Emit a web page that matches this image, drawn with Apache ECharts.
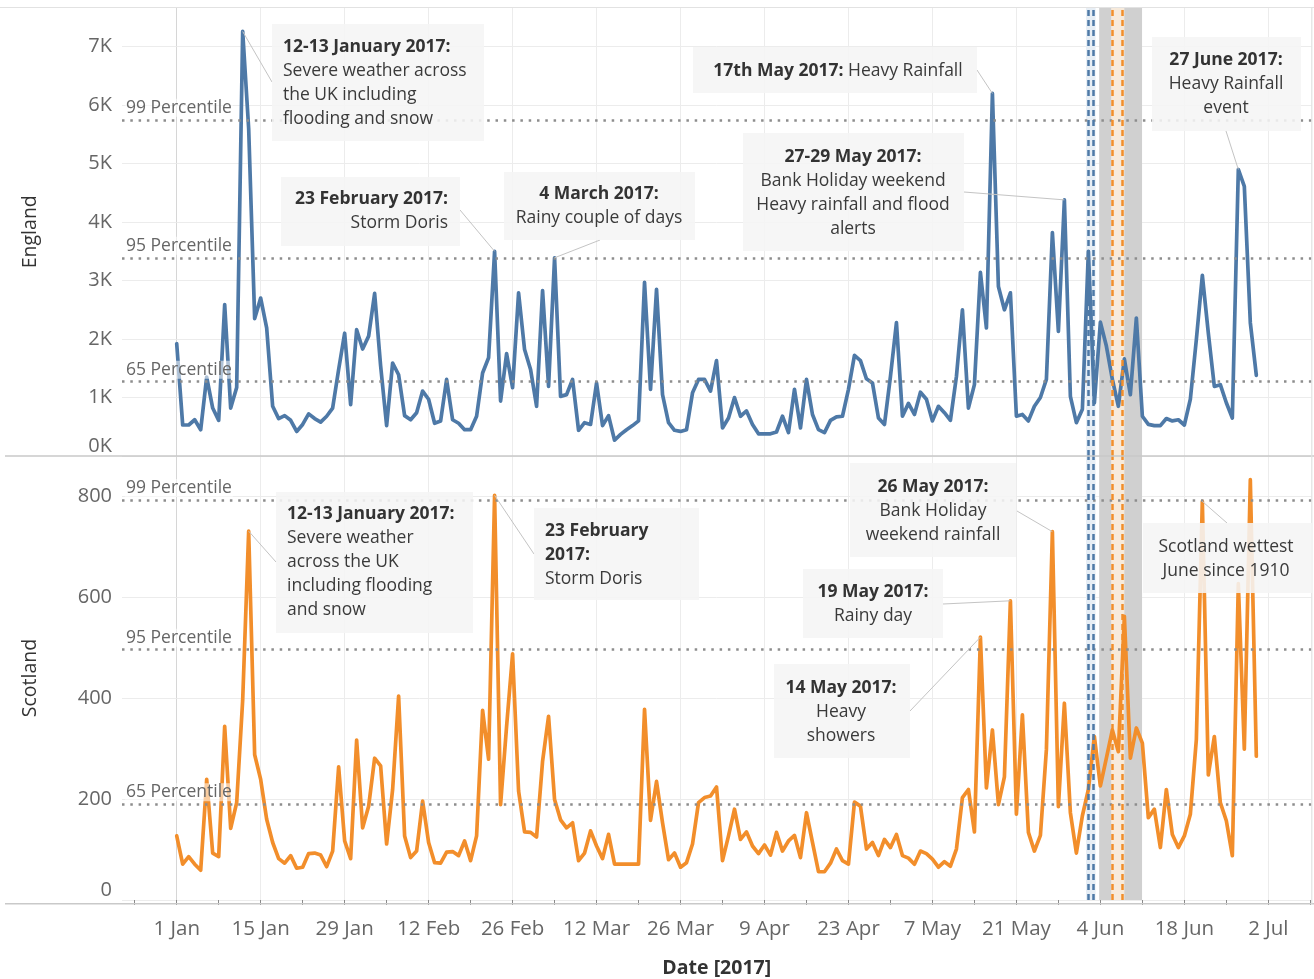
<!DOCTYPE html>
<html>
<head>
<meta charset="utf-8">
<script src="https://cdn.jsdelivr.net/npm/echarts@6/dist/echarts.min.js"></script>
<style>
html,body{margin:0;padding:0;background:#fff;}
#c{width:1314px;height:979px;}
</style>
</head>
<body>
<div id="c"></div>
<script>
// ---------------- DATA ----------------
// x = day index counted from 1 Jan 2017 (0 = 1 Jan)
const englandValues = [
1920,530,530,620,450,1350,820,610,2590,820,
1170,7260,5600,2350,2700,2190,850,640,690,610,
420,540,720,640,580,680,820,1480,2100,880,
2160,1830,2050,2780,1540,520,1590,1390,690,620,
740,1110,970,560,600,1310,620,560,450,450,
680,1420,1680,3500,940,1750,1170,2790,1820,1480,
850,2830,1190,3390,1020,1050,1310,440,570,540,
1250,520,690,270,370,450,520,600,2970,1140,
2850,1050,570,440,420,450,1080,1310,1310,1110,
1630,480,650,1000,680,770,540,380,380,380,
410,680,400,1140,480,1310,710,450,400,610,
670,680,1140,1720,1630,1320,1250,650,540,1360,
2280,680,900,710,1090,970,600,850,740,610,
1360,2500,820,1220,3140,2190,6200,2900,2500,2790,
680,710,600,850,1000,1310,3820,2130,4380,1020,
570,800,3500,910,2290,1880,1310,850,1660,1050,
2360,680,540,520,520,640,600,620,530,970,
1990,3090,2100,1190,1220,910,650,4900,4610,2280,1380
];
const scotlandValues = [
127,71,86,71,59,239,93,86,344,142,
193,396,731,288,239,160,114,82,73,88,
63,65,92,93,89,66,97,264,117,82,
317,143,186,281,266,111,219,404,127,84,
97,196,114,74,73,95,96,88,117,78,
127,376,279,802,189,344,488,216,135,134,
125,275,364,199,159,143,153,78,93,137,
107,82,130,71,71,71,71,71,378,158,
235,153,80,93,65,74,111,193,203,206,
224,78,127,180,120,135,107,92,109,89,
134,97,117,128,84,173,114,56,56,73,
101,78,71,194,186,101,114,88,120,104,
130,88,83,71,97,92,81,65,76,67,
101,203,219,135,521,222,337,189,244,593,
170,367,134,97,128,298,730,185,390,173,
93,167,219,324,226,281,337,294,562,281,
341,311,163,180,104,219,130,104,127,170,
318,790,248,324,193,157,88,627,299,833,285
];
const dayIndex = englandValues.map((_, i) => i);

const xTickDays = [0,14,28,42,56,70,84,98,112,126,140,154,168,182];
const xTickLabels = ['1 Jan','15 Jan','29 Jan','12 Feb','26 Feb','12 Mar','26 Mar','9 Apr','23 Apr','7 May','21 May','4 Jun','18 Jun','2 Jul'];
const xMinorTickDays = [-7,0,7,14,21,28,35,42,49,56,63,70,77,84,91,98,105,112,119,126,133,140,147,154,161,168,175,182,189];

const englandYTicks = [0,1000,2000,3000,4000,5000,6000,7000];
const englandYTickLabels = ['0K','1K','2K','3K','4K','5K','6K','7K'];
const scotlandYTicks = [0,200,400,600,800];
const scotlandYTickLabels = ['0','200','400','600','800'];

const percentileNames = ['99 Percentile','95 Percentile','65 Percentile'];
const englandPercentiles = [5750, 3390, 1270];
const scotlandPercentiles = [793, 496, 190];

// reference bands (day index)
const greyBand = [153.8, 160.95];
const blueBand = [151.6, 153.2];
const blueBandLines = [151.95, 152.83];
const orangeBand = [155.8, 158.0];
const orangeBandLines = [155.95, 157.7];

// ---------------- LAYOUT / STYLE ----------------
const FONT = '"Open Sans", sans-serif';
const XMIN = -9.12, XMAX = 189.2;
const BLUE = '#4e79a7', ORANGE = '#f28e2b';
const GRIDC = '#ececec';

const annotations = [
  {panel:0, day:11, anchor:[272,82], box:[272,24,212,117], align:'left', tx:283, ty:35,
   title:'12-13 January 2017:', body:['Severe weather across','the UK including','flooding and snow']},
  {panel:0, day:53, anchor:[460,210], box:[281,177,179,69], align:'right', tx:448, ty:187,
   title:'23 February 2017:', body:['Storm Doris']},
  {panel:0, day:63, anchor:[600,240], box:[504,172,191,68], align:'center', tx:599, ty:182,
   title:'4 March 2017:', body:['Rainy couple of days']},
  {panel:0, day:136, anchor:[977,70], box:[693,47,284,46], align:'center', tx:838, ty:59,
   title:'17th May 2017:', body:['Heavy Rainfall'], inline:true},
  {panel:0, day:148, anchor:[964,192], box:[743,133,221,118], align:'center', tx:853, ty:145,
   title:'27-29 May 2017:', body:['Bank Holiday weekend','Heavy rainfall and flood','alerts']},
  {panel:0, day:177, anchor:[1226,131], box:[1152,37,149,94], align:'center', tx:1226, ty:48,
   title:'27 June 2017:', body:['Heavy Rainfall','event']},
  {panel:1, day:12, anchor:[276,562], box:[276,492,197,141], align:'left', tx:287, ty:502,
   title:'12-13 January 2017:', body:['Severe weather','across the UK','including flooding','and snow']},
  {panel:1, day:53, anchor:[534,554], box:[534,508,165,92], align:'left', tx:545, ty:519,
   title:'23 February\n2017:', body:['Storm Doris']},
  {panel:1, day:146, anchor:[1017,511], box:[850,463,166,94], align:'center', tx:933, ty:475,
   title:'26 May 2017:', body:['Bank Holiday','weekend rainfall']},
  {panel:1, day:139, anchor:[943,604], box:[803,569,140,69], align:'center', tx:873, ty:580,
   title:'19 May 2017:', body:['Rainy day']},
  {panel:1, day:134, anchor:[910,711], box:[774,664,136,94], align:'center', tx:841, ty:676,
   title:'14 May 2017:', body:['Heavy','showers']},
  {panel:1, day:171, anchor:[1227,523], box:[1143,523,169,70], align:'center', tx:1226, ty:535,
   title:null, body:['Scotland wettest','June since 1910']}
];

// ---------------- BUILD ----------------
function richText(a) {
  let lines = [];
  if (a.inline) {
    lines.push('{b|' + a.title + '} {n|' + a.body.join(' ') + '}');
  } else {
    if (a.title) a.title.split('\n').forEach(t => lines.push('{b|' + t + '}'));
    a.body.forEach(t => lines.push('{n|' + t + '}'));
  }
  return lines.join('\n');
}

function percentileLines(vals) {
  return vals.map((v, i) => ({
    yAxis: v,
    lineStyle: {type: [2.5, 5.8], color: '#8d8d8d', width: 2.5, cap: 'butt'},
    label: {
      show: true, position: 'insideStartTop', formatter: percentileNames[i],
      color: '#666', fontFamily: FONT, fontSize: 17.5, distance: 3,
      backgroundColor: 'rgba(255,255,255,0.55)', padding: [0, 1]
    }
  }));
}
function bandLines() {
  const out = [];
  blueBandLines.forEach(v => out.push({xAxis: v, lineStyle: {type: [6, 4], color: BLUE, width: 2.5}, label: {show: false}}));
  orangeBandLines.forEach(v => out.push({xAxis: v, lineStyle: {type: [6, 4], color: ORANGE, width: 2.5}, label: {show: false}}));
  return out;
}
function bandAreas() {
  return [
    [{xAxis: greyBand[0], itemStyle: {color: '#d0d0d0'}}, {xAxis: greyBand[1]}],
    [{xAxis: blueBand[0], itemStyle: {color: '#e7eef5'}}, {xAxis: blueBand[1]}],
    [{xAxis: orangeBand[0], itemStyle: {color: '#f7eadb'}}, {xAxis: orangeBand[1]}]
  ];
}
function leaderLines(panel, values) {
  return annotations.filter(a => a.panel === panel).map(a => [
    {coord: [a.day, values[a.day]], lineStyle: {type: 'solid', color: '#c4c4c4', width: 1}, label: {show: false}},
    {x: a.anchor[0], y: a.anchor[1]}
  ]);
}

function hiddenX(gridIndex) {
  return {
    type: 'value', gridIndex, min: XMIN, max: XMAX,
    axisLine: {show: false},
    axisTick: {show: false, customValues: xTickDays},
    axisLabel: {show: false, customValues: xTickDays},
    splitLine: {show: true, lineStyle: {color: GRIDC, width: 1}}
  };
}

const option = {
  animation: false,
  backgroundColor: '#fff',
  textStyle: {fontFamily: FONT},
  grid: [
    {left: 122, right: 2.5, top: 7.5, height: 448.5},
    {left: 122, right: 2.5, top: 456, height: 447.5}
  ],
  xAxis: [
    hiddenX(0),
    hiddenX(1),
    {
      type: 'value', gridIndex: 1, position: 'bottom', min: XMIN, max: XMAX,
      axisLine: {show: false},
      axisTick: {show: true, customValues: xMinorTickDays, length: 5, lineStyle: {color: '#8a8a8a', width: 1}},
      axisLabel: {
        show: true, customValues: xTickDays, margin: 19,
        formatter: v => { const i = xTickDays.indexOf(v); return i >= 0 ? xTickLabels[i] : ''; },
        color: '#666', fontFamily: FONT, fontSize: 20.5
      },
      splitLine: {show: false},
      name: 'Date [2017]', nameLocation: 'middle', nameGap: 58,
      nameTextStyle: {color: '#333', fontFamily: FONT, fontSize: 19.5, fontWeight: 'bold'}
    }
  ],
  yAxis: [
    {
      type: 'value', gridIndex: 0, min: 0, max: 7670,
      axisLine: {show: true, lineStyle: {color: '#d6d6d6'}},
      axisTick: {show: true, customValues: englandYTicks, length: 9, lineStyle: {color: GRIDC}},
      axisLabel: {
        customValues: englandYTicks, margin: 10, verticalAlignMinLabel: 'bottom',
        formatter: v => englandYTickLabels[englandYTicks.indexOf(v)],
        color: '#666', fontFamily: FONT, fontSize: 20
      },
      splitLine: {show: true, lineStyle: {color: GRIDC}},
      name: 'England', nameLocation: 'middle', nameGap: 82,
      nameTextStyle: {color: '#333', fontFamily: FONT, fontSize: 19.5}
    },
    {
      type: 'value', gridIndex: 1, min: 0, max: 880,
      axisLine: {show: true, lineStyle: {color: '#d6d6d6'}},
      axisTick: {show: true, customValues: scotlandYTicks, length: 9, lineStyle: {color: GRIDC}},
      axisLabel: {
        customValues: scotlandYTicks, margin: 10, verticalAlignMinLabel: 'bottom',
        formatter: v => scotlandYTickLabels[scotlandYTicks.indexOf(v)],
        color: '#666', fontFamily: FONT, fontSize: 20
      },
      splitLine: {show: true, lineStyle: {color: GRIDC}},
      name: 'Scotland', nameLocation: 'middle', nameGap: 82,
      nameTextStyle: {color: '#333', fontFamily: FONT, fontSize: 19.5}
    }
  ],
  series: [
    {
      name: 'England', type: 'line', xAxisIndex: 0, yAxisIndex: 0,
      data: dayIndex.map(i => [i, englandValues[i]]),
      showSymbol: false, z: 3,
      lineStyle: {color: BLUE, width: 3.7, join: 'round', cap: 'round'},
      itemStyle: {color: BLUE},
      markArea: {silent: true, data: bandAreas()},
      markLine: {silent: true, symbol: 'none', data: percentileLines(englandPercentiles).concat(bandLines(), leaderLines(0, englandValues))}
    },
    {
      name: 'Scotland', type: 'line', xAxisIndex: 1, yAxisIndex: 1,
      data: dayIndex.map(i => [i, scotlandValues[i]]),
      showSymbol: false, z: 3,
      lineStyle: {color: ORANGE, width: 3.7, join: 'round', cap: 'round'},
      itemStyle: {color: ORANGE},
      markArea: {silent: true, data: bandAreas()},
      markLine: {silent: true, symbol: 'none', data: percentileLines(scotlandPercentiles).concat(bandLines(), leaderLines(1, scotlandValues))}
    }
  ],
  graphic: []
};

// frame lines
option.graphic.push(
  {type: 'line', silent: true, z: 20, shape: {x1: 0, y1: 7.5, x2: 1314, y2: 7.5}, style: {stroke: '#e2e2e2', lineWidth: 1.2}},
  {type: 'line', silent: true, z: 20, shape: {x1: 5, y1: 456, x2: 1314, y2: 456}, style: {stroke: '#c9c9c9', lineWidth: 1.3}},
  {type: 'line', silent: true, z: 20, shape: {x1: 5, y1: 903.8, x2: 1314, y2: 903.8}, style: {stroke: '#c9c9c9', lineWidth: 1.6}},
  {type: 'line', silent: true, z: 20, shape: {x1: 1311.8, y1: 7.5, x2: 1311.8, y2: 903.8}, style: {stroke: '#e2e2e2', lineWidth: 1.2}}
);

// annotation boxes
annotations.forEach(a => {
  option.graphic.push({
    type: 'rect', silent: true, z: 50,
    shape: {x: a.box[0], y: a.box[1], width: a.box[2], height: a.box[3]},
    style: {fill: 'rgba(245,245,245,0.88)'}
  });
  option.graphic.push({
    type: 'text', silent: true, z: 51, x: a.tx, y: a.ty,
    style: {
      text: richText(a), align: a.align, verticalAlign: 'top',
      fontFamily: FONT, fontSize: 17.5, lineHeight: 24, fill: '#333',
      rich: {
        b: {fontFamily: FONT, fontSize: 17.5, fontWeight: 'bold', lineHeight: 24, fill: '#333', color: '#333', align: a.align},
        n: {fontFamily: FONT, fontSize: 17.5, fontWeight: 'normal', lineHeight: 24, fill: '#3a3a3a', color: '#3a3a3a', align: a.align}
      }
    }
  });
});

const chart = echarts.init(document.getElementById('c'), null, {renderer: 'canvas', width: 1314, height: 979});
chart.setOption(option);
</script>
</body>
</html>
